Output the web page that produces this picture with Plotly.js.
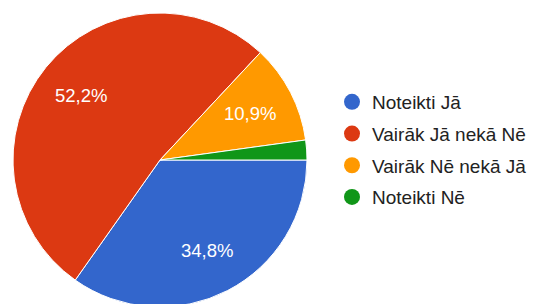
<!DOCTYPE html>
<html>
<head>
<meta charset="utf-8">
<script src="https://cdn.plot.ly/plotly-3.0.1.min.js"></script>
<style>
html, body { margin: 0; padding: 0; overflow: hidden; background: #fff; }
#chart { width: 533px; height: 307px; }
</style>
</head>
<body>
<div id="chart"></div>
<script>
const categories = ['Noteikti Jā', 'Vairāk Jā nekā Nē', 'Vairāk Nē nekā Jā', 'Noteikti Nē'];
const counts = [16, 24, 5, 1];
const colors = ['#3366cc', '#dc3912', '#ff9900', '#109618'];

const total = counts.reduce((a, b) => a + b, 0);
const W = 533, H = 307;
const dom = { x: [13 / W, 307 / W], y: [0, 294 / H] };
const FONT = 'Liberation Sans, Arial, sans-serif';

const pie = {
  type: 'pie',
  labels: categories,
  values: counts,
  sort: false,
  direction: 'clockwise',
  rotation: 90,
  marker: { colors: colors, line: { color: '#ffffff', width: 1 } },
  textinfo: 'none',
  hoverinfo: 'none',
  showlegend: false,
  domain: dom
};

// percentage labels placed along each slice's mid-angle (Google Charts style)
const cxPx = (dom.x[0] + dom.x[1]) / 2 * W;
const cyPx = (1 - (dom.y[0] + dom.y[1]) / 2) * H;
const rPx = Math.min((dom.x[1] - dom.x[0]) * W, (dom.y[1] - dom.y[0]) * H) / 2;
const annotations = [];
let cum = 0;
counts.forEach((v, i) => {
  const frac = v / total;
  const mid = (cum + frac / 2) * 2 * Math.PI; // clockwise from east
  cum += frac;
  if (frac < 0.05) return;
  const d = 0.69 * rPx;
  annotations.push({
    xref: 'paper', yref: 'paper',
    x: (cxPx + d * Math.cos(mid)) / W,
    y: 1 - (cyPx + d * Math.sin(mid)) / H,
    xanchor: 'center', yanchor: 'middle',
    showarrow: false,
    text: (frac * 100).toFixed(1).replace('.', ',') + '%',
    font: { family: FONT, size: 18.5, color: '#ffffff' }
  });
});

const legendTraces = categories.map((name, i) => ({
  type: 'scatter',
  mode: 'markers',
  x: [null],
  y: [null],
  name: name,
  legendgroup: 'g' + i,
  marker: { color: colors[i], size: 16, symbol: 'circle', line: { width: 0 } },
  hoverinfo: 'none',
  showlegend: true
}));

const layout = {
  width: W,
  height: H,
  margin: { l: 0, r: 0, t: 0, b: 0 },
  paper_bgcolor: '#ffffff',
  plot_bgcolor: '#ffffff',
  showlegend: true,
  annotations: annotations,
  xaxis: { visible: false, domain: [0.99, 1] },
  yaxis: { visible: false, domain: [0.99, 1] },
  legend: {
    x: 332 / W,
    xanchor: 'left',
    y: 1 - 83 / H,
    yanchor: 'top',
    orientation: 'v',
    tracegroupgap: 4,
    itemsizing: 'trace',
    font: { family: FONT, size: 19, color: '#222222' },
    bgcolor: 'rgba(0,0,0,0)'
  }
};

Plotly.newPlot('chart', [pie].concat(legendTraces), layout, { staticPlot: true, displayModeBar: false });
</script>
</body>
</html>
